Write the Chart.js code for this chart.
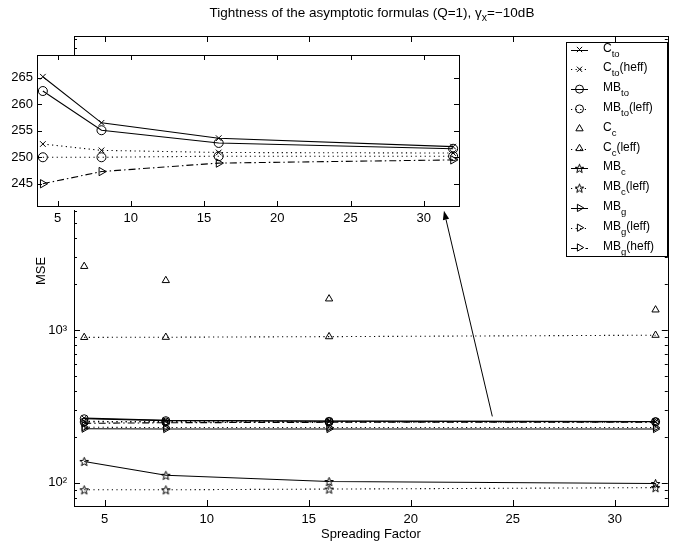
<!DOCTYPE html>
<html>
<head>
<meta charset="utf-8">
<script src="https://cdn.jsdelivr.net/npm/chart.js@4/dist/chart.umd.min.js"></script>
<style>
  html, body { margin: 0; padding: 0; background: #fff; }
  #wrap { position: relative; width: 673px; height: 542px; overflow: hidden; }
  #main { position: absolute; left: 0; top: 0; }
  #inset { position: absolute; left: 0; top: 40px; }
</style>
</head>
<body>
<div id="wrap">
  <canvas id="main" width="673" height="542"></canvas>
  <canvas id="inset" width="470" height="190"></canvas>
</div>
<script>
// ---- data ----
const spreadingFactor = [4, 8, 16, 32];

const C_to       = [265.2, 256.5, 253.6, 252.0];
const C_to_heff  = [252.5, 251.3, 250.9, 250.8];
const MB_to      = [262.5, 255.1, 252.7, 251.6];
const MB_to_leff = [250.0, 250.0, 250.2, 250.2];
const C_c        = [2610, 2110, 1600, 1355];
const C_c_leff   = [895, 897, 905, 925];
const MB_c       = [138, 112, 102, 99];
const MB_c_leff  = [90, 90, 91, 93];
const MB_g       = [226, 225, 225, 225];
const MB_g_leff  = [231, 230, 230, 230];
const MB_g_heff  = [245.0, 247.3, 248.9, 249.5];

const mainXTicks = [5, 10, 15, 20, 25, 30];
const mainYTicks = [100, 1000, 10000];
const mainYTickLabels = ['10\u00B2', '10\u00B3', '10\u2074'];
const insetXTicks = [5, 10, 15, 20, 25, 30];
const insetYTicks = [245, 250, 255, 260, 265];

// zoom arrow: from the cluster near 250 up to the magnified panel
const arrowFrom = [24.0, 272];
const arrowTo = [21.63, 6030];

const FONT = '"Liberation Sans", Arial, Helvetica, sans-serif';
Chart.defaults.font.family = FONT;
Chart.defaults.color = '#000';

function pentagram(r) {
  const s = Math.ceil(r * 2 + 3);
  const c = document.createElement('canvas');
  c.width = s; c.height = s;
  const g = c.getContext('2d');
  g.translate(s / 2, s / 2 + 0.5);
  g.beginPath();
  for (let k = 0; k < 10; k++) {
    const rr = k % 2 ? r * 0.42 : r;
    const a = -Math.PI / 2 + k * Math.PI / 5;
    g.lineTo(rr * Math.cos(a), rr * Math.sin(a));
  }
  g.closePath();
  g.strokeStyle = '#000'; g.lineWidth = 1; g.stroke();
  return c;
}
const STAR = pentagram(4.6);

const SOLID = [], DOT = [1.2, 3.4], DASHDOT = [7, 3, 1.5, 3];

// series: values, legend text parts, line style and marker
const series = [
  { values: C_to,       text: [['C'], ['to', 1]],                 dash: SOLID,   line: true,  marker: 'crossRot', rot: 0 },
  { values: C_to_heff,  text: [['C'], ['to', 1], ['(heff)']],     dash: DOT,     line: true,  marker: 'crossRot', rot: 0 },
  { values: MB_to,      text: [['MB'], ['to', 1]],                dash: SOLID,   line: true,  marker: 'circle',   rot: 0 },
  { values: MB_to_leff, text: [['MB'], ['to', 1], ['(leff)']],    dash: DOT,     line: true,  marker: 'circle',   rot: 0 },
  { values: C_c,        text: [['C'], ['c', 1]],                  dash: SOLID,   line: false, marker: 'triangle', rot: 0 },
  { values: C_c_leff,   text: [['C'], ['c', 1], ['(leff)']],      dash: DOT,     line: true,  marker: 'triangle', rot: 0 },
  { values: MB_c,       text: [['MB'], ['c', 1]],                 dash: SOLID,   line: true,  marker: 'star',     rot: 0 },
  { values: MB_c_leff,  text: [['MB'], ['c', 1], ['(leff)']],     dash: DOT,     line: true,  marker: 'star',     rot: 0 },
  { values: MB_g,       text: [['MB'], ['g', 1]],                 dash: SOLID,   line: true,  marker: 'triangle', rot: 90 },
  { values: MB_g_leff,  text: [['MB'], ['g', 1], ['(leff)']],     dash: DOT,     line: true,  marker: 'triangle', rot: 90 },
  { values: MB_g_heff,  text: [['MB'], ['g', 1], ['(heff)']],     dash: DASHDOT, line: true,  marker: 'triangle', rot: 90 }
];
const insetSeries = [0, 1, 2, 3, 10];

function markerSize(m, big) {
  if (m === 'circle') return big ? 4.5 : 4;
  if (m === 'crossRot') return big ? 4 : 3.5;
  return big ? 4.8 : 4.2;
}

function makeDataset(s, big) {
  return {
    label: s.text.map(p => p[0]).join(''),
    data: spreadingFactor.map((x, i) => ({ x: x, y: s.values[i] })),
    showLine: s.line,
    borderColor: '#000',
    borderWidth: 1.1,
    borderDash: s.dash,
    tension: 0,
    pointStyle: s.marker === 'star' ? STAR : s.marker,
    rotation: s.rot,
    pointRadius: markerSize(s.marker, big),
    pointBorderColor: '#000',
    pointBackgroundColor: 'rgba(0,0,0,0)',
    pointBorderWidth: 1
  };
}

// text with subscripts
function drawParts(ctx, parts, x, y, size, subSize, subDrop, align) {
  const w = parts.reduce((acc, p) => {
    ctx.font = (p[1] ? subSize : size) + 'px ' + FONT;
    return acc + ctx.measureText(p[0]).width;
  }, 0);
  let cx = align === 'center' ? x - w / 2 : x;
  ctx.textBaseline = 'alphabetic';
  ctx.textAlign = 'left';
  parts.forEach(p => {
    ctx.font = (p[1] ? subSize : size) + 'px ' + FONT;
    ctx.fillText(p[0], cx, y + (p[1] ? subDrop : 0));
    cx += ctx.measureText(p[0]).width;
  });
}

function drawMarker(ctx, s, x, y) {
  const r = markerSize(s.marker, false);
  ctx.save();
  ctx.lineWidth = 1; ctx.strokeStyle = '#000'; ctx.setLineDash([]);
  ctx.beginPath();
  if (s.marker === 'crossRot') {
    ctx.moveTo(x - r * 0.75, y - r * 0.75); ctx.lineTo(x + r * 0.75, y + r * 0.75);
    ctx.moveTo(x + r * 0.75, y - r * 0.75); ctx.lineTo(x - r * 0.75, y + r * 0.75);
    ctx.stroke();
  } else if (s.marker === 'circle') {
    ctx.arc(x, y, r, 0, Math.PI * 2); ctx.stroke();
  } else if (s.marker === 'triangle') {
    let a = s.rot * Math.PI / 180;
    for (let k = 0; k < 3; k++) {
      ctx.lineTo(x + Math.sin(a) * r, y - Math.cos(a) * r);
      a += Math.PI * 2 / 3;
    }
    ctx.closePath(); ctx.stroke();
  } else if (s.marker === 'star') {
    ctx.drawImage(STAR, x - STAR.width / 2, y - STAR.height / 2);
  }
  ctx.restore();
}

// closed box with inward ticks (major and minor)
const boxTicks = {
  id: 'boxTicks',
  afterDatasetsDraw(chart, args, opts) {
    const { ctx, chartArea: a } = chart;
    const xs = chart.scales.x, ys = chart.scales.y;
    ctx.save();
    ctx.strokeStyle = '#000';
    ctx.lineWidth = 1;
    ctx.setLineDash([]);
    ctx.beginPath();
    xs.ticks.forEach(t => {
      const p = Math.round(xs.getPixelForValue(t.value)) + 0.5;
      ctx.moveTo(p, a.bottom); ctx.lineTo(p, a.bottom - opts.major);
      ctx.moveTo(p, a.top); ctx.lineTo(p, a.top + opts.major);
    });
    ys.ticks.forEach(t => {
      const len = t.major ? opts.major : opts.minor;
      const p = Math.round(ys.getPixelForValue(t.value)) + 0.5;
      ctx.moveTo(a.left, p); ctx.lineTo(a.left + len, p);
      ctx.moveTo(a.right, p); ctx.lineTo(a.right - len, p);
    });
    ctx.stroke();
    ctx.strokeRect(Math.round(a.left) + 0.5, Math.round(a.top) + 0.5,
                   Math.round(a.right - a.left), Math.round(a.bottom - a.top));
    ctx.restore();
  }
};

// title, arrow and legend of the main panel
const mainDecor = {
  id: 'mainDecor',
  afterDraw(chart) {
    const { ctx } = chart;
    const xs = chart.scales.x, ys = chart.scales.y;
    ctx.save();
    ctx.fillStyle = '#000';
    drawParts(ctx, [['Tightness of the asymptotic formulas (Q=1), \u03B3'], ['x', 1], ['=\u221210dB']],
              372, 17, 13.5, 10.5, 3.5, 'center');

    // arrow
    const x0 = xs.getPixelForValue(arrowFrom[0]), y0 = ys.getPixelForValue(arrowFrom[1]);
    const x1 = xs.getPixelForValue(arrowTo[0]), y1 = ys.getPixelForValue(arrowTo[1]);
    const ang = Math.atan2(y1 - y0, x1 - x0);
    const hl = 9, hw = 3.2;
    ctx.strokeStyle = '#000'; ctx.lineWidth = 1;
    ctx.beginPath();
    ctx.moveTo(x0, y0);
    ctx.lineTo(x1 - Math.cos(ang) * hl, y1 - Math.sin(ang) * hl);
    ctx.stroke();
    ctx.beginPath();
    ctx.moveTo(x1, y1);
    ctx.lineTo(x1 - Math.cos(ang) * hl - Math.sin(ang) * hw, y1 - Math.sin(ang) * hl + Math.cos(ang) * hw);
    ctx.lineTo(x1 - Math.cos(ang) * hl + Math.sin(ang) * hw, y1 - Math.sin(ang) * hl - Math.cos(ang) * hw);
    ctx.closePath(); ctx.fill();

    // legend
    const bx0 = 566, by0 = 42, bx1 = 667, by1 = 256;
    ctx.fillStyle = '#fff';
    ctx.fillRect(bx0, by0, bx1 - bx0, by1 - by0);
    ctx.strokeStyle = '#000';
    ctx.strokeRect(bx0 + 0.5, by0 + 0.5, bx1 - bx0, by1 - by0);
    series.forEach((s, i) => {
      const ry = 49.5 + i * 19.8;
      if (s.line) {
        ctx.save();
        ctx.setLineDash(s.dash);
        ctx.beginPath();
        ctx.moveTo(571, Math.round(ry) + 0.5); ctx.lineTo(588, Math.round(ry) + 0.5);
        ctx.stroke();
        ctx.restore();
      }
      drawMarker(ctx, s, 579.5, ry);
      ctx.fillStyle = '#000';
      drawParts(ctx, s.text, 603, ry + 2, 12, 9.5, 5, 'left');
    });
    ctx.restore();
  }
};

new Chart(document.getElementById('main'), {
  type: 'line',
  data: { datasets: series.map(s => makeDataset(s, false)) },
  options: {
    responsive: false,
    devicePixelRatio: 1,
    animation: false,
    layout: { padding: { left: 0, right: 3, top: 36, bottom: 0 } },
    plugins: { legend: { display: false }, tooltip: { enabled: false }, title: { display: false },
               boxTicks: { major: 6, minor: 3 } },
    scales: {
      x: {
        type: 'linear', min: 3.5, max: 32.6,
        grid: { display: false, drawTicks: false },
        border: { display: false },
        afterBuildTicks: sc => { sc.ticks = mainXTicks.map(v => ({ value: v, major: true })); },
        afterFit: sc => { sc.height = 36; },
        ticks: { padding: 6, font: { size: 13 }, autoSkip: false, maxRotation: 0 },
        title: { display: true, text: 'Spreading Factor', font: { size: 13 }, padding: { top: 0, bottom: 0 } }
      },
      y: {
        type: 'logarithmic', min: 70.5, max: 84000,
        grid: { display: false, drawTicks: false },
        border: { display: false },
        afterBuildTicks: sc => {
          const out = [];
          mainYTicks.concat([10]).forEach(d => {
            for (let m = 1; m <= 9; m++) {
              const v = m * d;
              if (v >= sc.min && v <= sc.max) out.push({ value: v, major: m === 1 });
            }
          });
          sc.ticks = out;
        },
        afterFit: sc => { sc.width = 74; },
        ticks: {
          padding: 7, font: { size: 13 }, autoSkip: false,
          callback: v => { const k = mainYTicks.indexOf(v); return k >= 0 ? mainYTickLabels[k] : ''; }
        },
        title: { display: true, text: 'MSE', font: { size: 13 }, padding: { top: 34, bottom: 0 } }
      }
    }
  },
  plugins: [boxTicks, mainDecor]
});

// magnified panel
const insetBackground = {
  id: 'insetBackground',
  beforeDraw(chart) {
    const { ctx, chartArea: a } = chart;
    ctx.save();
    ctx.fillStyle = '#fff';
    ctx.fillRect(0, a.top, a.right + 1, a.bottom - a.top + 4);
    ctx.restore();
  }
};

new Chart(document.getElementById('inset'), {
  type: 'line',
  data: { datasets: insetSeries.map(k => makeDataset(series[k], true)) },
  options: {
    responsive: false,
    devicePixelRatio: 1,
    animation: false,
    layout: { padding: { left: 0, right: 11, top: 15, bottom: 0 } },
    plugins: { legend: { display: false }, tooltip: { enabled: false }, title: { display: false },
               boxTicks: { major: 5, minor: 5 } },
    scales: {
      x: {
        type: 'linear', min: 3.6, max: 32.4,
        grid: { display: false, drawTicks: false },
        border: { display: false },
        afterBuildTicks: sc => { sc.ticks = insetXTicks.map(v => ({ value: v, major: true })); },
        afterFit: sc => { sc.height = 24; },
        ticks: { padding: 4.5, font: { size: 13 }, autoSkip: false, maxRotation: 0 }
      },
      y: {
        type: 'linear', min: 240.8, max: 269.3,
        grid: { display: false, drawTicks: false },
        border: { display: false },
        afterBuildTicks: sc => { sc.ticks = insetYTicks.map(v => ({ value: v, major: true })); },
        afterFit: sc => { sc.width = 37; },
        ticks: { padding: 4, font: { size: 13 }, autoSkip: false }
      }
    }
  },
  plugins: [insetBackground, boxTicks]
});
</script>
</body>
</html>
